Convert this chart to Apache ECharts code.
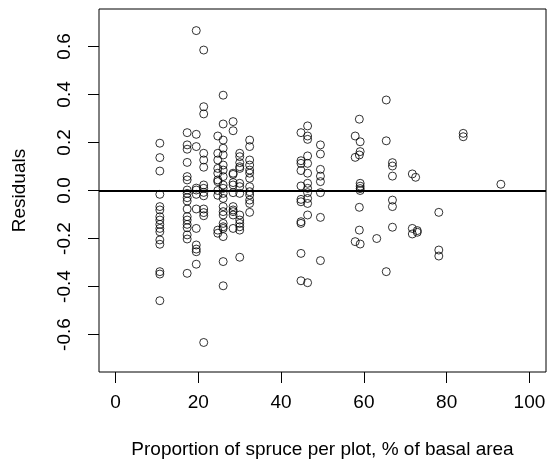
<!DOCTYPE html>
<html>
<head>
<meta charset="utf-8">
<script src="https://cdn.jsdelivr.net/npm/echarts@6/dist/echarts.min.js"></script>
<style>
html,body{margin:0;padding:0;background:#fff;}
#chart{width:547px;height:461px;}
</style>
</head>
<body>
<div id="chart"></div>
<script>
// Proportion of spruce per plot (% of basal area) for each group of points
const spruceShare = [10.7, 17.3, 19.5, 21.3, 24.7, 26.0, 28.4, 30.0, 32.4, 44.8, 46.4, 49.5,
  57.9, 58.9, 59.1, 63.1, 65.4, 66.9, 71.7, 72.5, 72.9, 78.1, 84.0, 93.1];
// Residuals observed at each of the spruce proportions above
const residualsByShare = [
  [0.197, 0.137, 0.081, -0.016, -0.067, -0.081, -0.109, -0.123, -0.141, -0.158, -0.172, -0.206, -0.224, -0.338, -0.348, -0.459],
  [0.241, 0.19, 0.172, 0.117, 0.058, 0.044, 0.002, -0.012, -0.03, -0.044, -0.077, -0.109, -0.123, -0.141, -0.155, -0.185, -0.202, -0.345],
  [0.666, 0.234, 0.183, 0.01, 0.002, -0.016, -0.077, -0.158, -0.227, -0.244, -0.255, -0.307],
  [0.585, 0.349, 0.319, 0.155, 0.127, 0.097, 0.023, 0.009, -0.008, -0.022, -0.077, -0.092, -0.105, -0.633],
  [0.227, 0.155, 0.127, 0.092, 0.072, 0.044, 0.037, 0.0, -0.02, -0.165, -0.178],
  [0.397, 0.277, 0.21, 0.176, 0.148, 0.106, 0.085, 0.058, 0.023, 0.009, -0.012, -0.033, -0.067, -0.088, -0.102, -0.137, -0.151, -0.158, -0.192, -0.296, -0.397],
  [0.287, 0.249, 0.072, 0.067, 0.033, 0.023, -0.009, -0.067, -0.081, -0.088, -0.102, -0.158],
  [0.155, 0.141, 0.116, 0.099, 0.092, 0.03, 0.016, -0.012, -0.102, -0.123, -0.137, -0.151, -0.165, -0.278],
  [0.21, 0.183, 0.127, 0.106, 0.085, 0.072, 0.051, 0.016, -0.005, -0.019, -0.04, -0.054, -0.091],
  [0.241, 0.124, 0.113, 0.083, 0.019, -0.037, -0.047, -0.13, -0.137, -0.262, -0.376],
  [0.269, 0.227, 0.213, 0.144, 0.113, 0.072, 0.03, 0.009, -0.009, -0.033, -0.054, -0.102, -0.384],
  [0.19, 0.152, 0.088, 0.06, 0.037, -0.009, -0.112, -0.292],
  [0.227, 0.138, -0.213],
  [0.297, 0.148, -0.07, -0.165],
  [0.203, 0.162, 0.03, 0.018, 0.008, 0.0, -0.223],
  [-0.2],
  [0.377, 0.207, -0.338],
  [0.116, 0.102, 0.06, -0.04, -0.067, -0.153],
  [0.069, -0.158, -0.181],
  [0.055],
  [-0.167, -0.174],
  [-0.091, -0.248, -0.273],
  [0.238, 0.224],
  [0.026]
];
const xTicks = [0, 20, 40, 60, 80, 100];
const yTicks = [-0.6, -0.4, -0.2, 0.0, 0.2, 0.4, 0.6];
const referenceLevel = 0;

const points = [];
spruceShare.forEach((x, i) => {
  residualsByShare[i].forEach(r => points.push([x, r]));
});

const FONT = 'Liberation Sans, Arial, sans-serif';
const chart = echarts.init(document.getElementById('chart'), null, {renderer: 'canvas'});
chart.setOption({
  animation: false,
  backgroundColor: '#fff',
  grid: {left: 99, right: 1, top: 9, bottom: 89, containLabel: false, outerBoundsMode: 'none',
    show: true, borderColor: '#000', borderWidth: 1, backgroundColor: 'transparent'},
  xAxis: {
    type: 'value', min: -4, max: 104,
    name: 'Proportion of spruce per plot, % of basal area',
    nameLocation: 'middle', nameGap: 68,
    nameTextStyle: {fontFamily: FONT, fontSize: 19, color: '#000'},
    axisLine: {show: false, onZero: false},
    splitLine: {show: false},
    axisTick: {show: true, inside: false, customValues: xTicks, length: 11, lineStyle: {color: '#000', width: 1}},
    axisLabel: {show: true, customValues: xTicks, margin: 21, fontFamily: FONT, fontSize: 19, color: '#000',
      formatter: v => String(v)}
  },
  yAxis: {
    type: 'value', min: -0.756, max: 0.756,
    name: 'Residuals',
    nameLocation: 'middle', nameGap: 70, nameRotate: 90,
    nameTextStyle: {fontFamily: FONT, fontSize: 19, color: '#000'},
    axisLine: {show: false, onZero: false},
    splitLine: {show: false},
    axisTick: {show: true, inside: false, customValues: yTicks, length: 11, lineStyle: {color: '#000', width: 1}},
    axisLabel: {show: true, customValues: yTicks, rotate: 90, margin: 25, fontFamily: FONT, fontSize: 19, color: '#000',
      formatter: v => v.toFixed(1)}
  },
  series: [{
    type: 'scatter',
    data: points,
    symbol: 'circle',
    symbolSize: 8,
    itemStyle: {color: 'rgba(0,0,0,0)', borderColor: '#000', borderWidth: 1},
    markLine: {
      silent: true, symbol: ['none', 'none'], label: {show: false},
      lineStyle: {color: '#000', width: 2, type: 'solid'},
      data: [{yAxis: referenceLevel}]
    }
  }]
});
</script>
</body>
</html>
